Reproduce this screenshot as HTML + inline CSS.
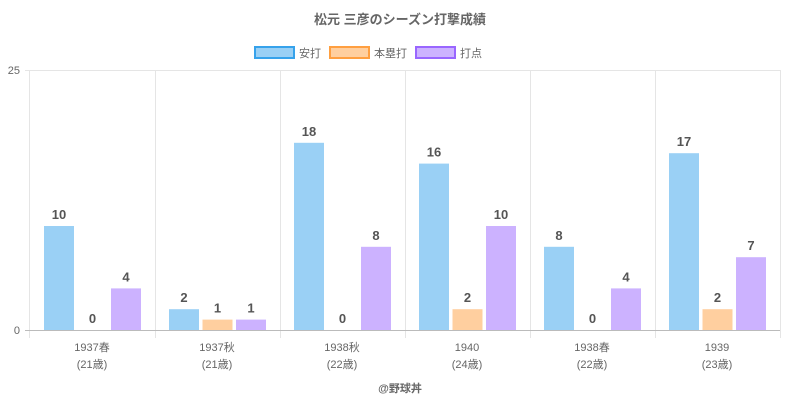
<!DOCTYPE html>
<html><head><meta charset="utf-8"><style>body{margin:0;background:#fff}svg{display:block}</style></head><body>
<svg width="800" height="400" xmlns="http://www.w3.org/2000/svg" font-family="Liberation Sans, Noto Sans CJK JP, sans-serif">
<text x="400" y="24" text-anchor="middle" font-size="13" font-weight="bold" fill="#666">松元 三彦のシーズン打撃成績</text>
<rect x="255" y="47" width="39" height="11" fill="#9ad0f5" stroke="#36a2eb" stroke-width="2"/>
<text x="299" y="57" font-size="11" fill="#666">安打</text>
<rect x="330" y="47" width="39" height="11" fill="#ffcf9f" stroke="#ff9f40" stroke-width="2"/>
<text x="374" y="57" font-size="11" fill="#666">本塁打</text>
<rect x="416" y="47" width="39" height="11" fill="#ccb2ff" stroke="#9966ff" stroke-width="2"/>
<text x="460" y="57" font-size="11" fill="#666">打点</text>
<g stroke="#e5e5e5" stroke-width="1">
<line x1="25" y1="70.5" x2="780" y2="70.5"/>
<line x1="29.5" y1="70" x2="29.5" y2="338"/><line x1="155.5" y1="70" x2="155.5" y2="338"/><line x1="280.5" y1="70" x2="280.5" y2="338"/><line x1="405.5" y1="70" x2="405.5" y2="338"/><line x1="530.5" y1="70" x2="530.5" y2="338"/><line x1="655.5" y1="70" x2="655.5" y2="338"/><line x1="780.5" y1="70" x2="780.5" y2="338"/>
</g>
<text x="20" y="74" text-anchor="end" font-size="11" fill="#666">25</text>
<text x="20" y="334" text-anchor="end" font-size="11" fill="#666">0</text>
<g>
<rect x="44" y="226" width="30" height="104" fill="#9ad0f5"/>
<rect x="111" y="288.4" width="30" height="41.6" fill="#ccb2ff"/>
<rect x="169" y="309.2" width="30" height="20.8" fill="#9ad0f5"/>
<rect x="202.5" y="319.6" width="30" height="10.4" fill="#ffcf9f"/>
<rect x="236" y="319.6" width="30" height="10.4" fill="#ccb2ff"/>
<rect x="294" y="142.8" width="30" height="187.2" fill="#9ad0f5"/>
<rect x="361" y="246.8" width="30" height="83.2" fill="#ccb2ff"/>
<rect x="419" y="163.6" width="30" height="166.4" fill="#9ad0f5"/>
<rect x="452.5" y="309.2" width="30" height="20.8" fill="#ffcf9f"/>
<rect x="486" y="226" width="30" height="104" fill="#ccb2ff"/>
<rect x="544" y="246.8" width="30" height="83.2" fill="#9ad0f5"/>
<rect x="611" y="288.4" width="30" height="41.6" fill="#ccb2ff"/>
<rect x="669" y="153.2" width="30" height="176.8" fill="#9ad0f5"/>
<rect x="702.5" y="309.2" width="30" height="20.8" fill="#ffcf9f"/>
<rect x="736" y="257.2" width="30" height="72.8" fill="#ccb2ff"/>
</g>
<g font-size="13" font-weight="bold" fill="#555" text-anchor="middle">
<text x="59" y="219">10</text><text x="92.5" y="323">0</text><text x="126" y="281.4">4</text>
<text x="184" y="302.2">2</text><text x="217.5" y="312.6">1</text><text x="251" y="312.6">1</text>
<text x="309" y="135.8">18</text><text x="342.5" y="323">0</text><text x="376" y="239.8">8</text>
<text x="434" y="156.6">16</text><text x="467.5" y="302.2">2</text><text x="501" y="219">10</text>
<text x="559" y="239.8">8</text><text x="592.5" y="323">0</text><text x="626" y="281.4">4</text>
<text x="684" y="146.2">17</text><text x="717.5" y="302.2">2</text><text x="751" y="250.2">7</text>
</g>
<line x1="25" y1="330.5" x2="780" y2="330.5" stroke="#bbb" stroke-width="1"/>
<g font-size="11" fill="#666" text-anchor="middle">
<text x="92" y="351">1937春</text><text x="92" y="368">(21歳)</text>
<text x="217" y="351">1937秋</text><text x="217" y="368">(21歳)</text>
<text x="342" y="351">1938秋</text><text x="342" y="368">(22歳)</text>
<text x="467" y="351">1940</text><text x="467" y="368">(24歳)</text>
<text x="592" y="351">1938春</text><text x="592" y="368">(22歳)</text>
<text x="717" y="351">1939</text><text x="717" y="368">(23歳)</text>
</g>
<text x="400" y="392" text-anchor="middle" font-size="11" font-weight="bold" fill="#666">@野球丼</text>
</svg>
</body></html>
